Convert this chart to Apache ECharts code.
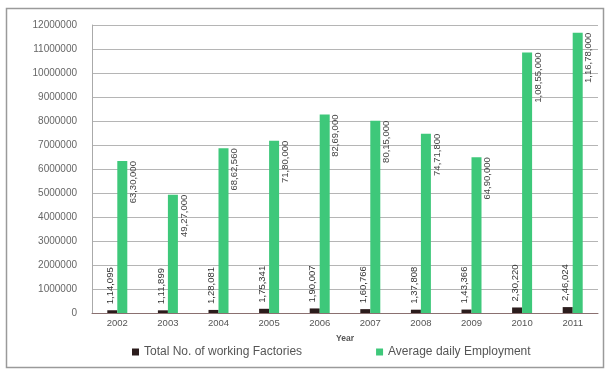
<!DOCTYPE html>
<html><head><meta charset="utf-8">
<script src="https://cdn.jsdelivr.net/npm/echarts@6/dist/echarts.min.js"></script>
<style>html,body{margin:0;padding:0;background:#fff}#c{width:607px;height:370px}</style>
</head><body><div id="c"></div>
<script>
var years = ['2002','2003','2004','2005','2006','2007','2008','2009','2010','2011'];
var factories = [114095,111899,128081,175341,190007,160766,137808,143366,230220,246024];
var employment = [6330000,4927000,6862560,7180000,8269000,8015000,7471800,6490000,10855000,11678000];
var seriesNames = ['Total No. of working Factories','Average daily Employment'];
var yTicks = [0,1000000,2000000,3000000,4000000,5000000,6000000,7000000,8000000,9000000,10000000,11000000,12000000];

function indian(n){
  var s = String(Math.round(n));
  if (s.length <= 3) return s;
  var last = s.slice(-3), rest = s.slice(0,-3);
  var parts = [];
  while (rest.length > 2){ parts.unshift(rest.slice(-2)); rest = rest.slice(0,-2); }
  if (rest) parts.unshift(rest);
  return parts.join(',') + ',' + last;
}

var chart = echarts.init(document.getElementById('c'));
chart.setOption({
  backgroundColor:'#fff',
  animation:false,
  graphic:[{type:'rect',shape:{x:6.5,y:8.5,width:597,height:359},style:{fill:'none',stroke:'#9a9a9a',lineWidth:1.5},z:-1}],
  grid:{left:92,right:9,top:25,bottom:57},
  legend:{
    data:seriesNames, bottom:7, left:127, itemGap:74, itemWidth:7, itemHeight:7, icon:'rect',
    textStyle:{fontFamily:'Liberation Sans, Arial',fontSize:12,color:'#555'}
  },
  xAxis:{
    type:'category', data:years, name:'Year', nameLocation:'middle', nameGap:21,
    nameTextStyle:{fontFamily:'Liberation Sans, Arial',fontSize:8.5,fontWeight:'bold',color:'#555'},
    axisLine:{lineStyle:{color:'#8a7070',width:1}}, axisTick:{show:false},
    axisLabel:{fontFamily:'Liberation Sans, Arial',fontSize:9.5,color:'#555',margin:5}
  },
  yAxis:{
    type:'value', min:0, max:12000000, interval:1000000,
    axisLine:{show:true,lineStyle:{color:'#aaa'}}, axisTick:{show:false},
    splitLine:{lineStyle:{color:'#b5b5b5',width:1}},
    axisLabel:{fontFamily:'Liberation Sans, Arial',fontSize:10,color:'#666',margin:15,
      formatter:function(v){return yTicks.indexOf(v)>=0?String(v):'';}}
  },
  series:[
    {name:seriesNames[0], type:'bar', data:factories, barWidth:10, barGap:'0%',
     itemStyle:{color:'#2b1c1c'},
     label:{show:true, position:'top', rotate:90, align:'left', verticalAlign:'middle', distance:6, offset:[0,-2],
       fontFamily:'Liberation Sans, Arial', fontSize:9.5, color:'#333',
       formatter:function(p){return indian(p.value);}}},
    {name:seriesNames[1], type:'bar', data:employment, barWidth:10, barGap:'0%',
     itemStyle:{color:'#3ec87a'},
     label:{show:true, position:['100%',0], rotate:90, align:'right', verticalAlign:'middle', offset:[0,6],
       fontFamily:'Liberation Sans, Arial', fontSize:9.5, color:'#444',
       formatter:function(p){return indian(p.value);}}}
  ]
});
</script></body></html>
